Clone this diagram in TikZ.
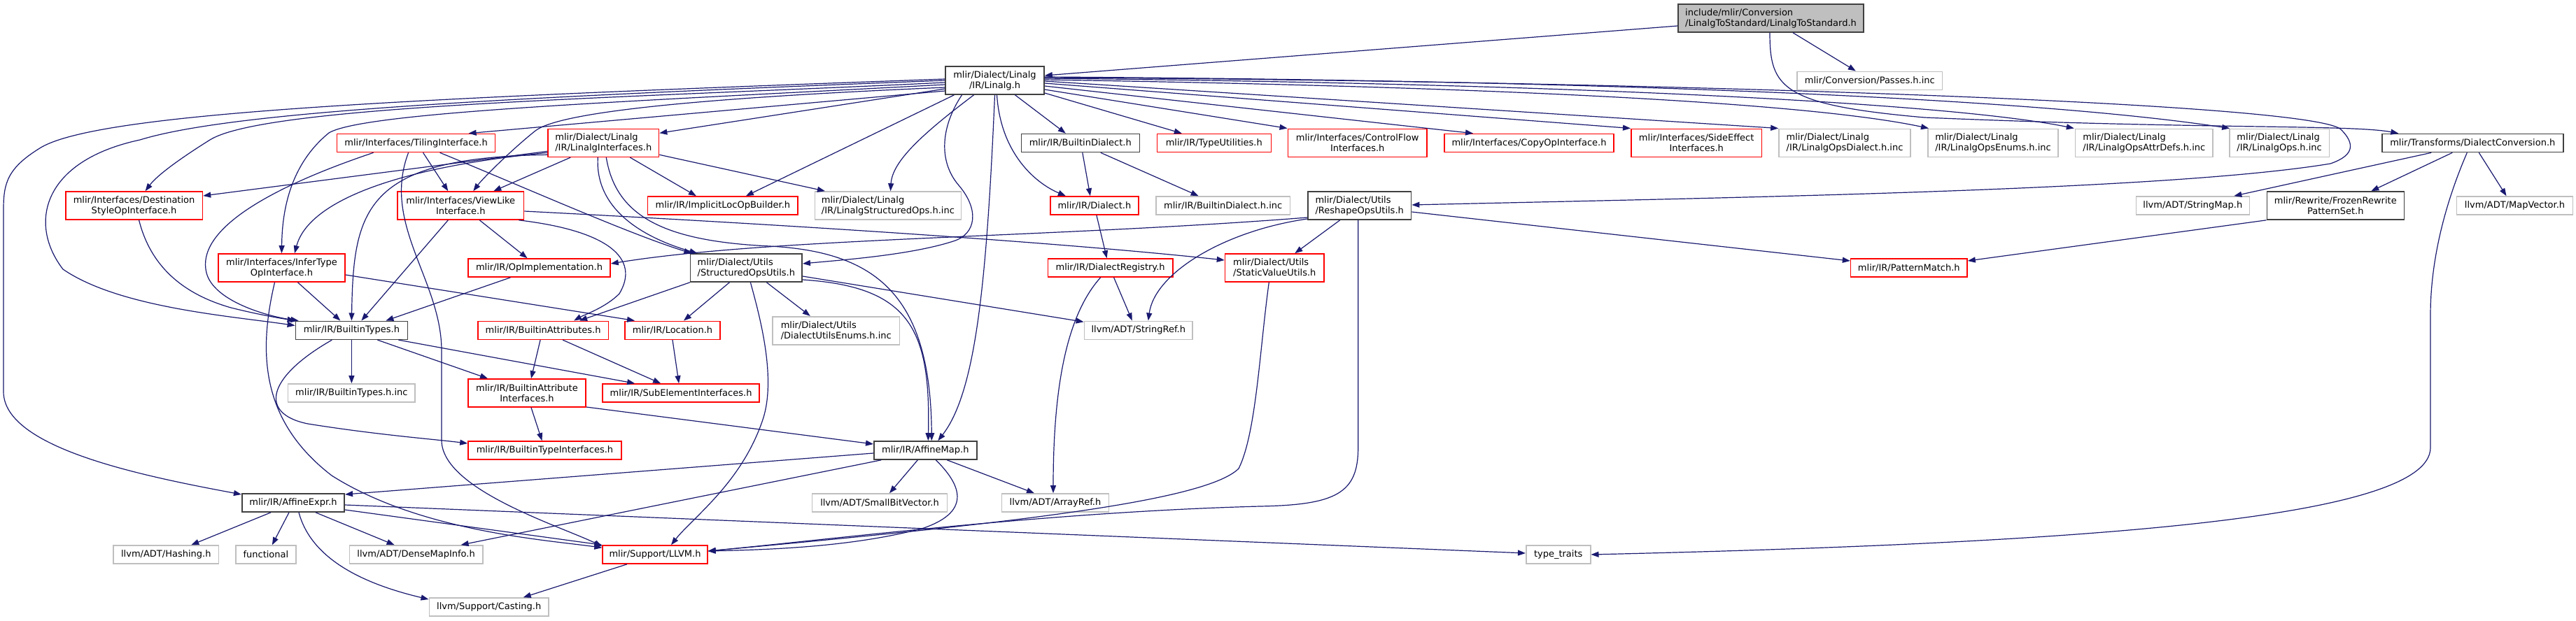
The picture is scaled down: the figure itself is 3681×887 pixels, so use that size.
\documentclass[tikz,border=0pt]{standalone}
\usepackage{fontspec}
\setmainfont{DejaVu Sans}
\usetikzlibrary{arrows.meta}
\definecolor{edgec}{HTML}{191970}
\definecolor{gsev}{HTML}{BFBFBF}
\definecolor{gtwo}{HTML}{404040}
\definecolor{redc}{HTML}{FF0000}
\begin{document}
\begin{tikzpicture}[x=1pt,y=-1pt,
 every node/.style={font=\fontsize{13}{15}\selectfont, inner sep=0pt, text=black},
 wh/.style 2 args={minimum width=#1pt, minimum height=#2pt},
 nb/.style={draw=gtwo, fill=white, line width=1.6pt},
 nr/.style={draw=redc, fill=white, line width=1.6pt},
 ng/.style={draw=gsev, fill=white, line width=1.6pt},
 nt/.style={draw=gtwo, fill=gsev, line width=1.6pt},
 ed/.style={draw=edgec, line width=1.2pt, -{Triangle[length=11pt,width=8pt]}}
]
\fill[white] (0,0) rectangle (3681,887);
\useasboundingbox (0,0) rectangle (3681,887);

% ---------- nodes ----------
\node[nt, wh={265}{40}, align=left] (nTop) at (2530.5,26) {include/mlir/Conversion\\/LinalgToStandard/LinalgToStandard.h};
\node[nb, wh={141}{40}, align=center] (nL) at (1421.5,115) {mlir/Dialect/Linalg\\/IR/Linalg.h};
\node[ng, wh={207.5}{26}] (nPasses) at (2671.8,115.3) {mlir/Conversion/Passes.h.inc};

\node[nr, wh={226}{26}] (nTiling) at (594.6,204.5) {mlir/Interfaces/TilingInterface.h};
\node[nr, wh={158.5}{40}, align=left] (nLinInt) at (862.3,204.3) {mlir/Dialect/Linalg\\/IR/LinalgInterfaces.h};
\node[nb, wh={169}{26}] (nBdial) at (1543.8,204.5) {mlir/IR/BuiltinDialect.h};
\node[nr, wh={163}{26}] (nTypeutil) at (1734.8,204.5) {mlir/IR/TypeUtilities.h};
\node[nr, wh={198.7}{40}, align=center] (nCflow) at (1939.7,204.3) {mlir/Interfaces/ControlFlow\\Interfaces.h};
\node[nr, wh={242}{26}] (nCopy) at (2185,204.5) {mlir/Interfaces/CopyOpInterface.h};
\node[nr, wh={186.8}{40}, align=center] (nSide) at (2424.2,204.3) {mlir/Interfaces/SideEffect\\Interfaces.h};
\node[ng, wh={188}{40}, align=left] (nOpsDial) at (2636,204.3) {mlir/Dialect/Linalg\\/IR/LinalgOpsDialect.h.inc};
\node[ng, wh={186.4}{40}, align=left] (nEnums) at (2848,204.3) {mlir/Dialect/Linalg\\/IR/LinalgOpsEnums.h.inc};
\node[ng, wh={196.6}{40}, align=left] (nAttr) at (3063.8,204.3) {mlir/Dialect/Linalg\\/IR/LinalgOpsAttrDefs.h.inc};
\node[ng, wh={142.6}{40}, align=left] (nOpsInc) at (3257.1,204.3) {mlir/Dialect/Linalg\\/IR/LinalgOps.h.inc};
\node[nb, wh={258.9}{26}] (nDconv) at (3533.3,204.5) {mlir/Transforms/DialectConversion.h};

\node[nr, wh={195.7}{40}, align=center] (nDest) at (191.6,294) {mlir/Interfaces/Destination\\StyleOpInterface.h};
\node[nr, wh={180.5}{40}, align=center] (nView) at (658.3,294) {mlir/Interfaces/ViewLike\\Interface.h};
\node[nr, wh={214.7}{26}] (nImpl) at (1032.9,294) {mlir/IR/ImplicitLocOpBuilder.h};
\node[ng, wh={208.8}{40}, align=left] (nStructInc) at (1268.9,294) {mlir/Dialect/Linalg\\/IR/LinalgStructuredOps.h.inc};
\node[nr, wh={126.2}{26}] (nDialect) at (1563.9,294) {mlir/IR/Dialect.h};
\node[ng, wh={191.3}{26}] (nBdialInc) at (1747.7,294) {mlir/IR/BuiltinDialect.h.inc};
\node[nb, wh={147.7}{40}, align=left] (nReshape) at (1942.7,294) {mlir/Dialect/Utils\\/ReshapeOpsUtils.h};
\node[ng, wh={162}{26}] (nStrMap) at (3133.3,294) {llvm/ADT/StringMap.h};
\node[nb, wh={196}{40}, align=center] (nFrozen) at (3337.3,294) {mlir/Rewrite/FrozenRewrite\\PatternSet.h};
\node[ng, wh={165.7}{26}] (nMapVec) at (3593.5,294) {llvm/ADT/MapVector.h};

\node[nr, wh={181}{40}, align=center] (nInfer) at (402.5,383) {mlir/Interfaces/InferType\\OpInterface.h};
\node[nr, wh={203}{26}] (nOpImpl) at (770.5,383) {mlir/IR/OpImplementation.h};
\node[nb, wh={159.5}{40}, align=left] (nSou) at (1066.4,383) {mlir/Dialect/Utils\\/StructuredOpsUtils.h};
\node[nr, wh={178.5}{26}] (nDreg) at (1586.6,383) {mlir/IR/DialectRegistry.h};
\node[nr, wh={141.5}{40}, align=left] (nStatic) at (1821.3,383) {mlir/Dialect/Utils\\/StaticValueUtils.h};
\node[nr, wh={166.4}{26}] (nPattern) at (2727.8,383) {mlir/IR/PatternMatch.h};

\node[nb, wh={160}{26}] (nBtypes) at (502.4,472.3) {mlir/IR/BuiltinTypes.h};
\node[nr, wh={186.8}{26}] (nBattrs) at (776.1,472.3) {mlir/IR/BuiltinAttributes.h};
\node[nr, wh={135.5}{26}] (nLoc) at (961,472.3) {mlir/IR/Location.h};
\node[ng, wh={181.5}{40}, align=left] (nDueInc) at (1194.8,472.7) {mlir/Dialect/Utils\\/DialectUtilsEnums.h.inc};
\node[ng, wh={154.8}{26}] (nStrRef) at (1626.8,472.3) {llvm/ADT/StringRef.h};

\node[ng, wh={181.5}{26}] (nBtypesInc) at (502.4,562) {mlir/IR/BuiltinTypes.h.inc};
\node[nr, wh={168}{40}, align=center] (nBai) at (753,562) {mlir/IR/BuiltinAttribute\\Interfaces.h};
\node[nr, wh={223.8}{26}] (nSubel) at (973.1,562) {mlir/IR/SubElementInterfaces.h};

\node[nr, wh={219}{26}] (nBti) at (778.5,644) {mlir/IR/BuiltinTypeInterfaces.h};
\node[nb, wh={147}{26}] (nAmap) at (1322.3,644) {mlir/IR/AffineMap.h};

\node[nb, wh={146.5}{26}] (nAexpr) at (419,719) {mlir/IR/AffineExpr.h};
\node[ng, wh={193.3}{26}] (nSbv) at (1257,719) {llvm/ADT/SmallBitVector.h};
\node[ng, wh={153}{26}] (nAref) at (1508,719) {llvm/ADT/ArrayRef.h};

\node[ng, wh={150.7}{26}] (nHash) at (237.3,793) {llvm/ADT/Hashing.h};
\node[ng, wh={86}{26}] (nFunc) at (379.9,793) {functional};
\node[ng, wh={190.4}{26}] (nDmi) at (594.6,793) {llvm/ADT/DenseMapInfo.h};
\node[nr, wh={149.7}{26}] (nLlvm) at (936,793) {mlir/Support/LLVM.h};
\node[ng, wh={92}{26}] (nTT) at (2226.7,793) {type\_traits};

\node[ng, wh={170.8}{26}] (nCast) at (698.7,868) {llvm/Support/Casting.h};

% ---------- edges ----------
% top
\draw[ed] ([yshift=-11pt]nTop.west) -- ([yshift=7pt]nL.east);
\draw[ed] ([xshift=31.5pt]nTop.south) -- ([xshift=-20pt]nPasses.north);
\draw[ed] ([xshift=-1.5pt]nTop.south) .. controls (2529,125) and (2545,150) .. (2750,168) .. controls (3150,185) and (3360,178) .. ([xshift=-106pt]nDconv.north);

% Linalg.h to the left
\draw[ed] ([yshift=2pt]nL.west) .. controls (600,140) and (150,160) .. (60,210) .. controls (10,240) and (5,262) .. (5,300) -- (5,560) .. controls (5,640) and (200,680) .. ([yshift=12pt]nAexpr.west);
\draw[ed] (nL.west) .. controls (700,140) and (330,160) .. (200,200) .. controls (60,230) and (40,320) .. (90,385) .. controls (170,440) and (330,452) .. ([yshift=-7pt]nBtypes.north west);
\draw[ed] ([yshift=-3pt]nL.west) .. controls (900,140) and (380,150) .. (300,200) .. controls (260,225) and (225,250) .. ([xshift=16pt]nDest.north);
\draw[ed] ([yshift=-6pt]nL.west) .. controls (900,145) and (520,160) .. (470,190) .. controls (415,235) and (403,300) .. (nInfer.north);
\draw[ed] ([yshift=-10pt]nL.west) .. controls (1000,140) and (800,160) .. (765,187) .. controls (730,215) and (690,255) .. ([xshift=18pt]nView.north);
\draw[ed] ([yshift=-12pt]nL.west) -- ([yshift=14pt]nLinInt.east);
\draw[ed] ([yshift=-15pt]nL.west) -- ([xshift=75pt]nTiling.north);

% Linalg.h downwards
\draw[ed] ([xshift=-58pt]nL.south) -- ([xshift=33pt]nImpl.north);
\draw[ed] ([xshift=-30pt]nL.south) .. controls (1320,190) and (1275,230) .. ([xshift=3.6pt]nStructInc.north);
\draw[ed] ([xshift=-47pt]nL.south) .. controls (1345,180) and (1340,230) .. (1370,265) .. controls (1400,300) and (1395,335) .. (1362,345) .. controls (1300,365) and (1200,372) .. ([yshift=6pt]nSou.east);
\draw[ed] (nL.south) .. controls (1410,400) and (1395,560) .. ([xshift=18pt]nAmap.north);
\draw[ed] ([xshift=3pt]nL.south) .. controls (1430,220) and (1480,262) .. ([xshift=-41pt]nDialect.north);
\draw[ed] ([xshift=29pt]nL.south) -- ([xshift=-21pt]nBdial.north);

% Linalg.h to the right
\draw[ed] ([yshift=-18pt]nL.east) -- ([xshift=-46pt]nTypeutil.north);
\draw[ed] ([yshift=-13pt]nL.east) -- (nCflow.north west);
\draw[ed] ([yshift=-8pt]nL.east) -- ([xshift=-80pt]nCopy.north);
\draw[ed] ([yshift=-4pt]nL.east) -- (nSide.north west);
\draw[ed] ([yshift=-1pt]nL.east) -- (nOpsDial.north west);
\draw[ed] ([yshift=1pt]nL.east) .. controls (2200,125) and (2600,150) .. ([xshift=-92pt]nEnums.north);
\draw[ed] ([yshift=3pt]nL.east) .. controls (2300,120) and (2800,150) .. ([xshift=-100pt]nAttr.north);
\draw[ed] ([yshift=5pt]nL.east) .. controls (2300,115) and (2900,140) .. ([xshift=-71pt]nOpsInc.north);
\draw[ed] ([yshift=4pt]nL.east) .. controls (2300,115) and (3300,145) .. (3345,185) .. controls (3365,205) and (3365,222) .. (3330,234) .. controls (3100,272) and (2500,282) .. ([yshift=1pt]nReshape.east);

% TilingInterface
\draw[ed] ([xshift=10pt]nTiling.south) -- ([xshift=-18pt]nView.north);
\draw[ed] ([xshift=-61pt]nTiling.south) .. controls (380,270) and (280,330) .. (295,390) .. controls (305,430) and (380,452) .. ([xshift=5pt]nBtypes.north west);
\draw[ed] ([xshift=-11pt]nTiling.south) .. controls (545,320) and (630,400) .. (631,500) -- (631,630) .. controls (632,700) and (800,752) .. ([yshift=-2pt]nLlvm.north west);
\draw[ed] ([xshift=34pt]nTiling.south) .. controls (750,268) and (900,335) .. ([xshift=-78pt]nSou.north);

% LinalgInterfaces
\draw[ed] ([yshift=-12pt]nLinInt.west) -- ([yshift=14pt]nDest.east);
\draw[ed] ([xshift=-47pt]nLinInt.south) -- ([xshift=47pt]nView.north);
\draw[ed] ([yshift=-14pt]nLinInt.west) .. controls (560,240) and (440,290) .. ([xshift=18.5pt]nInfer.north);
\draw[ed] ([yshift=-17pt]nLinInt.west) .. controls (520,225) and (505,300) .. (nBtypes.north);
\draw[ed] ([xshift=38pt]nLinInt.south) -- ([xshift=-38pt]nImpl.north);
\draw[ed] ([yshift=-17pt]nLinInt.east) -- ([xshift=-90pt]nStructInc.north);
\draw[ed] ([xshift=-8pt]nLinInt.south) .. controls (850,300) and (920,340) .. ([xshift=-70pt]nSou.north);
\draw[ed] ([xshift=4pt]nLinInt.south) .. controls (880,310) and (950,345) .. (1100,352) .. controls (1250,360) and (1330,420) .. ([xshift=9pt]nAmap.north);

% ViewLikeInterface
\draw[ed] ([xshift=27pt]nView.south) -- ([xshift=-17pt]nOpImpl.north);
\draw[ed] ([xshift=-18pt]nView.south) -- ([xshift=14pt]nBtypes.north);
\draw[ed] ([yshift=-8pt]nView.east) .. controls (1100,320) and (1500,345) .. ([yshift=11pt]nStatic.west);
\draw[ed] ([xshift=83pt]nView.south) .. controls (870,330) and (915,370) .. (885,420) .. controls (865,440) and (835,450) .. ([xshift=44pt]nBattrs.north);

% Destination, InferType, OpImplementation
\draw[ed] ([xshift=7pt]nDest.south) .. controls (215,380) and (260,420) .. (330,440) .. controls (370,450) and (400,455) .. (nBtypes.north west);
\draw[ed] ([xshift=23pt]nInfer.south) -- ([xshift=-16pt]nBtypes.north);
\draw[ed] ([xshift=-10pt]nInfer.south) .. controls (370,500) and (370,600) .. (474,680) .. controls (600,760) and (780,772) .. ([yshift=-4pt]nLlvm.north west);
\draw[ed] ([yshift=-10pt]nInfer.east) -- ([xshift=-54pt]nLoc.north);
\draw[ed] ([xshift=-41pt]nOpImpl.south) -- ([xshift=49pt]nBtypes.north);

% StructuredOpsUtils
\draw[ed] (nSou.south west) -- ([xshift=52pt]nBattrs.north);
\draw[ed] ([xshift=-24pt]nSou.south) -- ([xshift=16pt]nLoc.north);
\draw[ed] ([xshift=6pt]nSou.south) .. controls (1085,450) and (1110,540) .. (1090,600) .. controls (1060,690) and (990,740) .. ([xshift=23pt]nLlvm.north);
\draw[ed] ([xshift=29pt]nSou.south) -- ([xshift=-37pt]nDueInc.north);
\draw[ed] ([yshift=-12pt]nSou.east) -- ([yshift=12pt]nStrRef.west);
\draw[ed] ([yshift=-17pt]nSou.east) .. controls (1300,410) and (1330,470) .. ([xshift=4pt]nAmap.north);

% BuiltinDialect, Dialect, DialectRegistry
\draw[ed] ([xshift=3pt]nBdial.south) -- ([xshift=-6pt]nDialect.north);
\draw[ed] ([xshift=29pt]nBdial.south) -- ([xshift=-35pt]nBdialInc.north);
\draw[ed] ([xshift=3pt]nDialect.south) -- ([xshift=-5pt]nDreg.north);
\draw[ed] ([xshift=-14pt]nDreg.south) .. controls (1525,450) and (1505,550) .. ([xshift=-3pt]nAref.north);
\draw[ed] ([xshift=5pt]nDreg.south) -- ([xshift=-9pt]nStrRef.north);

% StaticValueUtils, ReshapeOpsUtils
\draw[ed] ([xshift=-8pt]nStatic.south) .. controls (1800,500) and (1795,620) .. (1770,670) .. controls (1720,720) and (1400,752) .. ([yshift=5pt]nLlvm.east);
\draw[ed] ([xshift=-28pt]nReshape.south) -- ([xshift=29pt]nStatic.north);
\draw[ed] ([xshift=-2pt]nReshape.south) -- (1940.7,640) .. controls (1940.7,705) and (1910,722) .. (1800,724) .. controls (1500,732) and (1200,770) .. ([yshift=5pt]nLlvm.east);
\draw[ed] ([yshift=-9pt]nReshape.east) -- ([yshift=10pt]nPattern.west);
\draw[ed] ([yshift=-17pt]nReshape.west) .. controls (1500,340) and (1100,340) .. ([yshift=6pt]nOpImpl.east);
\draw[ed] ([yshift=-19pt]nReshape.west) .. controls (1750,330) and (1650,390) .. ([xshift=14pt]nStrRef.north);

% FrozenRewritePatternSet, DialectConversion
\draw[ed] (nFrozen.south west) -- ([yshift=10pt]nPattern.east);
\draw[ed] ([xshift=-59pt]nDconv.south) -- ([xshift=59pt]nStrMap.north);
\draw[ed] ([xshift=-29pt]nDconv.south) -- ([xshift=51pt]nFrozen.north);
\draw[ed] ([xshift=9pt]nDconv.south) -- ([xshift=-12pt]nMapVec.north);
\draw[ed] ([xshift=-8pt]nDconv.south) .. controls (3490,300) and (3473,380) .. (3473,450) -- (3473,640) .. controls (3473,740) and (3000,776) .. (nTT.east);

% AffineExpr
\draw[ed] ([yshift=-3pt]nAexpr.east) -- ([yshift=2pt]nTT.west);
\draw[ed] ([xshift=-32pt]nAexpr.south) -- ([xshift=36pt]nHash.north);
\draw[ed] ([xshift=-6pt]nAexpr.south) -- ([xshift=9pt]nFunc.north);
\draw[ed] ([xshift=32pt]nAexpr.south) -- ([xshift=-31pt]nDmi.north);
\draw[ed] ([yshift=-10pt]nAexpr.east) -- (nLlvm.north west);
\draw[ed] ([xshift=8pt]nAexpr.south) .. controls (445,800) and (520,835) .. ([yshift=11pt]nCast.west);
\draw[ed] ([xshift=-40pt]nLlvm.south) -- ([xshift=49pt]nCast.north);

% AffineMap
\draw[ed] ([yshift=-4pt]nAmap.west) -- ([yshift=12pt]nAexpr.east);
\draw[ed] ([xshift=-63pt]nAmap.south) -- ([xshift=64pt]nDmi.north);
\draw[ed] ([xshift=-11pt]nAmap.south) -- ([xshift=14pt]nSbv.north);
\draw[ed] ([xshift=31pt]nAmap.south) -- ([xshift=-30pt]nAref.north);
\draw[ed] ([xshift=15pt]nAmap.south) .. controls (1370,690) and (1392,730) .. (1320,755) .. controls (1220,782) and (1100,786) .. ([yshift=5pt]nLlvm.east);

% BuiltinTypes, BuiltinAttributes, Location, BuiltinAttributeInterfaces
\draw[ed] (nBtypes.south) -- (nBtypesInc.north);
\draw[ed] ([xshift=37pt]nBtypes.south) -- ([xshift=-56pt]nBai.north);
\draw[ed] ([xshift=67pt]nBtypes.south) -- ([xshift=-66pt]nSubel.north);
\draw[ed] ([xshift=-28pt]nBtypes.south) .. controls (380,540) and (370,592) .. (440,606) .. controls (540,622) and (620,628) .. ([yshift=10pt]nBti.west);
\draw[ed] ([xshift=-4pt]nBattrs.south) -- ([xshift=6pt]nBai.north);
\draw[ed] ([xshift=28pt]nBattrs.south) -- ([xshift=-29pt]nSubel.north);
\draw[ed] (nLoc.south) -- ([xshift=-3pt]nSubel.north);
\draw[ed] ([xshift=6pt]nBai.south) -- ([xshift=-4pt]nBti.north);
\draw[ed] ([yshift=-20pt]nBai.east) -- ([yshift=9pt]nAmap.west);
\end{tikzpicture}
\end{document}
